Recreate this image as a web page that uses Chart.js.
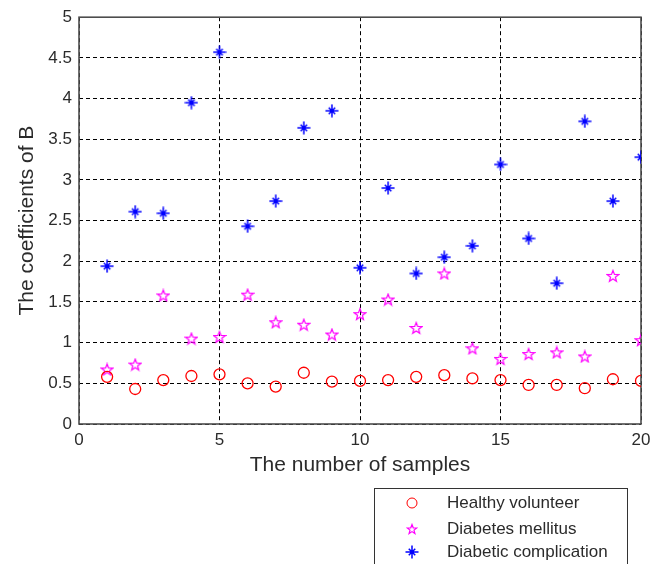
<!DOCTYPE html>
<html>
<head>
<meta charset="utf-8">
<script src="https://cdn.jsdelivr.net/npm/chart.js@4/dist/chart.umd.min.js"></script>
<style>
  html, body { margin: 0; padding: 0; background: #fff; }
  #wrap { width: 659px; height: 564px; }
</style>
</head>
<body>
<div id="wrap"><canvas id="coef-chart"></canvas></div>
<script>
// sample numbers 1..20
const samples = [1,2,3,4,5,6,7,8,9,10,11,12,13,14,15,16,17,18,19,20]

// values
const healthy = [0.58,0.43,0.54,0.59,0.61,0.50,0.46,0.63,0.52,0.53,0.54,0.58,0.60,0.56,0.54,0.48,0.48,0.44,0.55,0.53]
const mellitus = [0.67,0.73,1.58,1.05,1.07,1.59,1.25,1.22,1.10,1.35,1.53,1.18,1.85,0.93,0.80,0.86,0.88,0.83,1.82,1.03]
const complication = [1.94,2.61,2.59,3.95,4.57,2.43,2.74,3.64,3.85,1.92,2.90,1.85,2.05,2.19,3.19,2.28,1.73,3.72,2.74,3.28]

const seriesNames = ["Healthy volunteer","Diabetes mellitus","Diabetic complication"]
const xTicks = [0,5,10,15,20]
const yTicks = [0,0.5,1,1.5,2,2.5,3,3.5,4,4.5,5]

const font = "'Liberation Sans', Arial, sans-serif"
const textColor = "#2b2b2b"

// pentagram marker (matlab 'p') drawn on a small canvas
function makePentagram(size, color) {
    const c = document.createElement("canvas")
    c.width = size; c.height = size
    const g = c.getContext("2d")
    const cx = size / 2, cy = size / 2 + 0.5
    const ro = size / 2 - 1, ri = ro * 0.42
    g.beginPath()
    for (let i = 0; i < 10; i++) {
        const r = i % 2 === 0 ? ro : ri
        const a = -Math.PI / 2 + i * Math.PI / 5
        const px = cx + r * Math.cos(a), py = cy + r * Math.sin(a)
        if (i === 0) g.moveTo(px, py); else g.lineTo(px, py)
    }
    g.closePath()
    g.strokeStyle = color
    g.lineWidth = 1.2
    g.stroke()
    return c
}

// asterisk marker (matlab '*'): long plus, short diagonals, dot in the middle
function makeAsterisk(size, color) {
    const c = document.createElement("canvas")
    c.width = size; c.height = size
    const g = c.getContext("2d")
    const m = size / 2, r = size / 2 - 0.5, d = r * 0.5
    g.strokeStyle = color
    g.lineWidth = 1.5
    g.beginPath()
    g.moveTo(m - r, m); g.lineTo(m + r, m)
    g.moveTo(m, m - r); g.lineTo(m, m + r)
    g.moveTo(m - d, m - d); g.lineTo(m + d, m + d)
    g.moveTo(m - d, m + d); g.lineTo(m + d, m - d)
    g.stroke()
    g.fillStyle = color
    g.beginPath()
    g.arc(m, m, 2, 0, Math.PI * 2)
    g.fill()
    return c
}

const starImg = makePentagram(14, "#ff00ff")
const starImgSmall = makePentagram(12, "#ff00ff")
const astImg = makeAsterisk(14, "#0000ff")

function toPoints(ys) {
    return samples.map((x, i) => ({x: x, y: ys[i]}))
}

// solid box round the plot area (matlab axes)
const boxPlugin = {
    id: "box",
    beforeDatasetsDraw(chart) {
        const a = chart.chartArea, ctx = chart.ctx
        ctx.save()
        ctx.strokeStyle = "#4d4d4d"
        ctx.lineWidth = 1.6
        ctx.strokeRect(a.left, a.top, a.right - a.left, a.bottom - a.top)
        ctx.restore()
    }
}

// legend box below the axes
const legendPlugin = {
    id: "boxLegend",
    afterDraw(chart) {
        const ctx = chart.ctx
        ctx.save()
        ctx.fillStyle = "#fff"
        ctx.fillRect(374, 488, 253, 100)
        ctx.strokeStyle = "#333"
        ctx.lineWidth = 1
        ctx.strokeRect(374.5, 488.5, 253, 100)
        const rows = [503, 529, 552]
        const marks = [null, starImgSmall, astImg]
        chart.data.datasets.forEach((ds, i) => {
            ctx.strokeStyle = ds.borderColor
            ctx.fillStyle = ds.backgroundColor
            Chart.helpers.drawPoint(ctx, {
                pointStyle: marks[i] || ds.pointStyle,
                radius: 5,
                rotation: 0,
                borderWidth: ds.borderWidth
            }, 412, rows[i])
            ctx.fillStyle = textColor
            ctx.font = "17px " + font
            ctx.textBaseline = "middle"
            ctx.textAlign = "left"
            ctx.fillText(seriesNames[i], 447, rows[i])
        })
        ctx.restore()
    }
}

new Chart("coef-chart", {
    type: "scatter",
    data: {
        datasets: [
            {
                label: seriesNames[0],
                data: toPoints(healthy),
                pointStyle: "circle",
                pointRadius: 5.5,
                borderColor: "#ff0000",
                backgroundColor: "rgba(0,0,0,0)",
                borderWidth: 1.3
            },
            {
                label: seriesNames[1],
                data: toPoints(mellitus),
                pointStyle: starImg,
                pointRadius: 7,
                borderColor: "#ff00ff",
                backgroundColor: "rgba(0,0,0,0)",
                borderWidth: 1.2
            },
            {
                label: seriesNames[2],
                data: toPoints(complication),
                pointStyle: astImg,
                pointRadius: 7,
                borderColor: "#0000ff",
                backgroundColor: "#0000ff",
                borderWidth: 1.5
            }
        ]
    },
    options: {
        responsive: true,
        maintainAspectRatio: false,
        animation: false,
        layout: { padding: { top: 15, right: 18, bottom: 84, left: 0 } },
        plugins: {
            legend: { display: false },
            tooltip: { enabled: false }
        },
        scales: {
            x: {
                type: "linear",
                min: 0, max: 20,
                afterBuildTicks(s) { s.ticks = xTicks.map(v => ({value: v})) },
                afterFit(s) { s.height = 56 },
                ticks: { color: textColor, font: { family: font, size: 17 }, padding: 6, callback: v => String(v) },
                grid: { color: "#000", drawTicks: false, lineWidth: 1 },
                border: { display: false, dash: [4, 3] },
                title: {
                    display: true,
                    text: "The number of samples",
                    color: textColor,
                    font: { family: font, size: 21 },
                    padding: { top: 0, bottom: 2 }
                }
            },
            y: {
                type: "linear",
                min: 0, max: 5,
                afterBuildTicks(s) { s.ticks = yTicks.map(v => ({value: v})) },
                afterFit(s) { s.width = 79 },
                ticks: { color: textColor, font: { family: font, size: 17 }, padding: 7, callback: v => String(v) },
                grid: { color: "#000", drawTicks: false, lineWidth: 1 },
                border: { display: false, dash: [4, 3] },
                title: {
                    display: true,
                    text: "The coefficients of B",
                    color: textColor,
                    font: { family: font, size: 21 },
                    padding: { top: 15, bottom: 0 }
                }
            }
        }
    },
    plugins: [boxPlugin, legendPlugin]
});
</script>
</body>
</html>
